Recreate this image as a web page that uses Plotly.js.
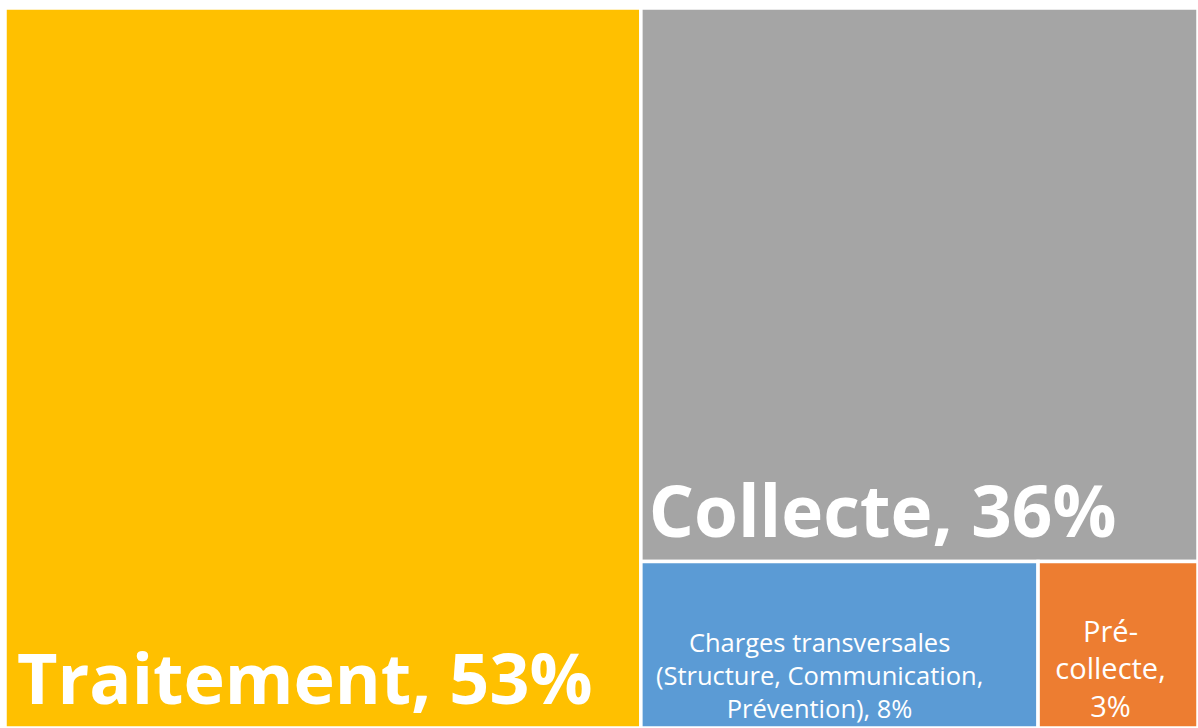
<!DOCTYPE html>
<html>
<head>
<meta charset="utf-8">
<script src="https://cdn.plot.ly/plotly-3.0.1.min.js"></script>
<style>html,body{margin:0;padding:0;background:#fff;}#chart{width:1198px;height:728px;}</style>
</head>
<body>
<div id="chart"></div>
<script>
// Data (shares of total cost, %)
const categories = ["Traitement", "Collecte", "Charges transversales (Structure, Communication, Prévention)", "Pré-collecte"];
const values = [53.3, 35.9, 7.7, 3.1];
const percentLabels = ["53%", "36%", "8%", "3%"];
// How each label is broken into lines inside its tile
const displayNames = ["Traitement", "Collecte", "Charges transversales<br>(Structure, Communication,<br>Prévention)", "Pré-<br>collecte"];
const separators = [", ", ", ", ", ", ",<br>"];

// Styling
const colors = ["#FFC000", "#A5A5A5", "#5B9BD5", "#ED7D31"];
const bold = [true, true, false, false];
const fontSizes = [70, 71, 25.5, 29];
// trailing non-breaking spaces per line, to nudge centred text slightly left as in the original
const nudge = [2, 4, 6, 2];

const tileText = displayNames.map((n, i) => {
  const pad = "\u00A0".repeat(nudge[i]);
  const s = (n + separators[i] + percentLabels[i]).split("<br>").map(l => l + pad).join("<br>");
  return bold[i] ? "<b>" + s + "</b>" : s;
});

const trace = {
  type: "treemap",
  labels: categories,
  parents: categories.map(() => ""),
  values: values,
  text: tileText,
  texttemplate: "%{text}",
  hoverinfo: "label+value",
  textposition: "bottom center",
  sort: true,
  tiling: {packing: "squarify", pad: 0},
  marker: {
    colors: colors,
    line: {color: "#ffffff", width: 3.5},
    pad: {t: 0, l: 0, r: 0, b: 0}
  },
  pathbar: {visible: false},
  textfont: {
    family: "Open Sans, Noto Sans, sans-serif",
    color: "#ffffff",
    size: fontSizes
  }
};

const layout = {
  width: 1198,
  height: 728,
  margin: {l: 5, r: 0, t: 8, b: 0},
  paper_bgcolor: "#ffffff",
  showlegend: false
};

Plotly.newPlot("chart", [trace], layout, {displayModeBar: false, staticPlot: true});
</script>
</body>
</html>
